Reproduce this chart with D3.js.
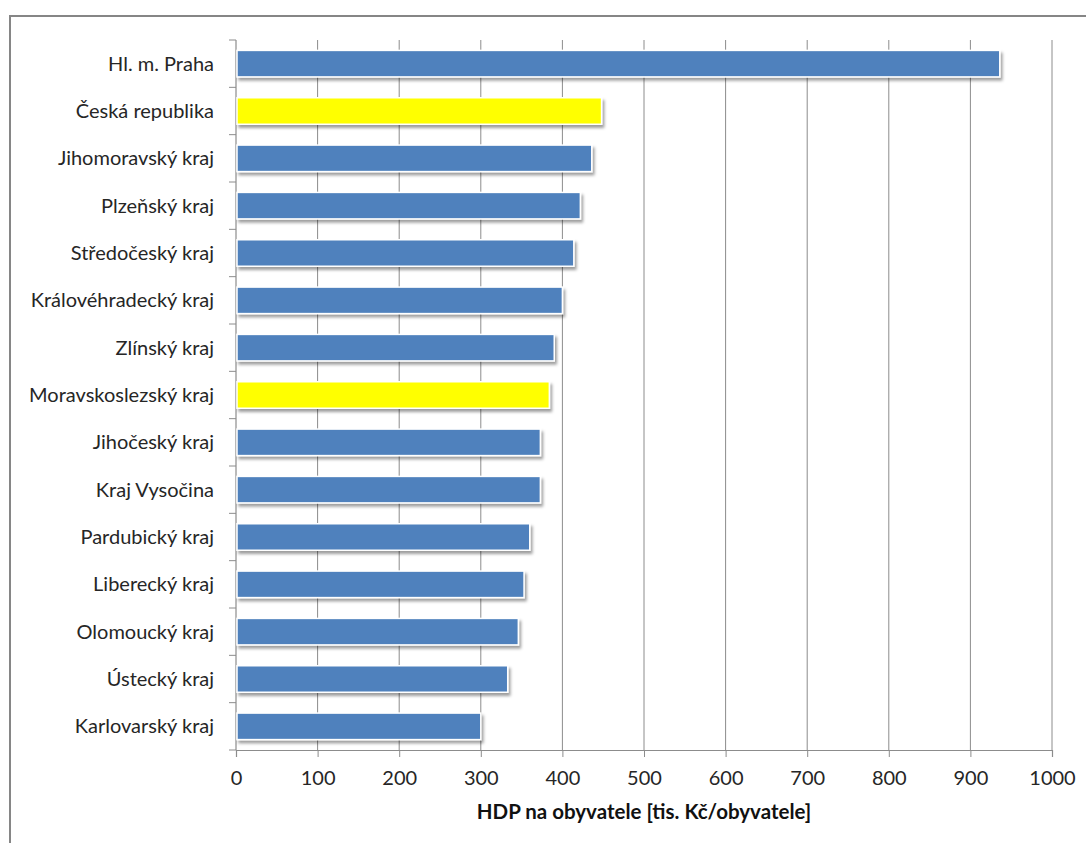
<!DOCTYPE html>
<html>
<head>
<meta charset="utf-8">
<script src="https://cdn.jsdelivr.net/npm/d3@7"></script>
<style>
  html, body { margin: 0; padding: 0; background: #fff; }
  svg { display: block; }
</style>
</head>
<body>
<svg id="chart" width="1086" height="843"></svg>
<script>
// ---- data ----
const categories = [
  "Hl. m. Praha", "Česká republika", "Jihomoravský kraj", "Plzeňský kraj",
  "Středočeský kraj", "Královéhradecký kraj", "Zlínský kraj", "Moravskoslezský kraj",
  "Jihočeský kraj", "Kraj Vysočina", "Pardubický kraj", "Liberecký kraj",
  "Olomoucký kraj", "Ústecký kraj", "Karlovarský kraj"
];
const values = [936, 448, 436, 422, 414, 400, 390, 384, 373, 373, 360, 353, 346, 333, 300];
const highlighted = ["Česká republika", "Moravskoslezský kraj"];
const xTicks = [0, 100, 200, 300, 400, 500, 600, 700, 800, 900, 1000];
const xTitle = "HDP na obyvatele [tis. Kč/obyvatele]";

(function () {
const data = categories.map((c, i) => ({ name: c, value: values[i] }));

// ---- layout ----
const svg = d3.select("#chart");
const font = "Lato, 'Open Sans', sans-serif";
const fs = 20;
const mLeft = 236, mRight = 1052, mTop = 40, mBottom = 750;

// outer border
svg.append("rect")
  .attr("x", 10).attr("y", 16)
  .attr("width", 1100).attr("height", 900)
  .attr("fill", "none").attr("stroke", "#868686").attr("stroke-width", 2);

const defs = svg.append("defs");
const f = defs.append("filter").attr("id", "shadow")
  .attr("x", "-5%").attr("y", "-30%").attr("width", "115%").attr("height", "180%");
f.append("feDropShadow").attr("dx", 2).attr("dy", 3).attr("stdDeviation", 1.8)
  .attr("flood-color", "#000").attr("flood-opacity", 0.38);

const x = d3.scaleLinear().domain([0, 1000]).range([mLeft, mRight]);
const y = d3.scaleBand().domain(categories).range([mTop, mBottom])
  .paddingInner(0.44).paddingOuter(0.22);

// vertical gridlines
svg.append("g").selectAll("line").data(xTicks.slice(1)).join("line")
  .attr("x1", d => x(d)).attr("x2", d => x(d))
  .attr("y1", mTop).attr("y2", mBottom)
  .attr("stroke", "#8c8c8c").attr("stroke-width", 1);

// x axis
const xAxis = d3.axisBottom(x).tickValues(xTicks).tickSize(7).tickPadding(14)
  .tickFormat(d3.format("d"));
const gx = svg.append("g").attr("transform", `translate(0,${mBottom})`).call(xAxis);
gx.select(".domain").attr("stroke", "#8c8c8c").attr("stroke-width", 1.2);
gx.selectAll(".tick line").attr("stroke", "#8c8c8c");
gx.selectAll(".tick text").attr("font-family", font).attr("font-size", fs).attr("fill", "#262626");

// y axis line & ticks at band boundaries
const step = y.step();
const boundaries = d3.range(categories.length + 1).map(i => mTop + i * step);
svg.append("line").attr("x1", mLeft).attr("x2", mLeft).attr("y1", mTop).attr("y2", mBottom)
  .attr("stroke", "#8c8c8c").attr("stroke-width", 1.2);
svg.append("g").selectAll("line").data(boundaries).join("line")
  .attr("x1", mLeft - 7).attr("x2", mLeft)
  .attr("y1", d => d).attr("y2", d => d)
  .attr("stroke", "#8c8c8c");

// category labels
svg.append("g").selectAll("text").data(data).join("text")
  .attr("x", 214)
  .attr("y", d => y(d.name) + y.bandwidth() / 2)
  .attr("dy", "0.35em")
  .attr("text-anchor", "end")
  .attr("font-family", font).attr("font-size", fs).attr("fill", "#262626")
  .text(d => d.name);

// bars
svg.append("g").selectAll("rect").data(data).join("rect")
  .attr("x", x(0) + 1)
  .attr("y", d => y(d.name))
  .attr("width", d => x(d.value) - x(0) - 1)
  .attr("height", y.bandwidth())
  .attr("fill", d => highlighted.includes(d.name) ? "#FFFF00" : "#4F81BD")
  .attr("stroke", "#ffffff").attr("stroke-width", 1.5)
  .attr("filter", "url(#shadow)");

// x title
svg.append("text")
  .attr("x", (mLeft + mRight) / 2).attr("y", 819)
  .attr("text-anchor", "middle")
  .attr("font-family", font).attr("font-size", fs + 0.5).attr("font-weight", "bold")
  .attr("fill", "#111")
  .text(xTitle);
})();
</script>
</body>
</html>
